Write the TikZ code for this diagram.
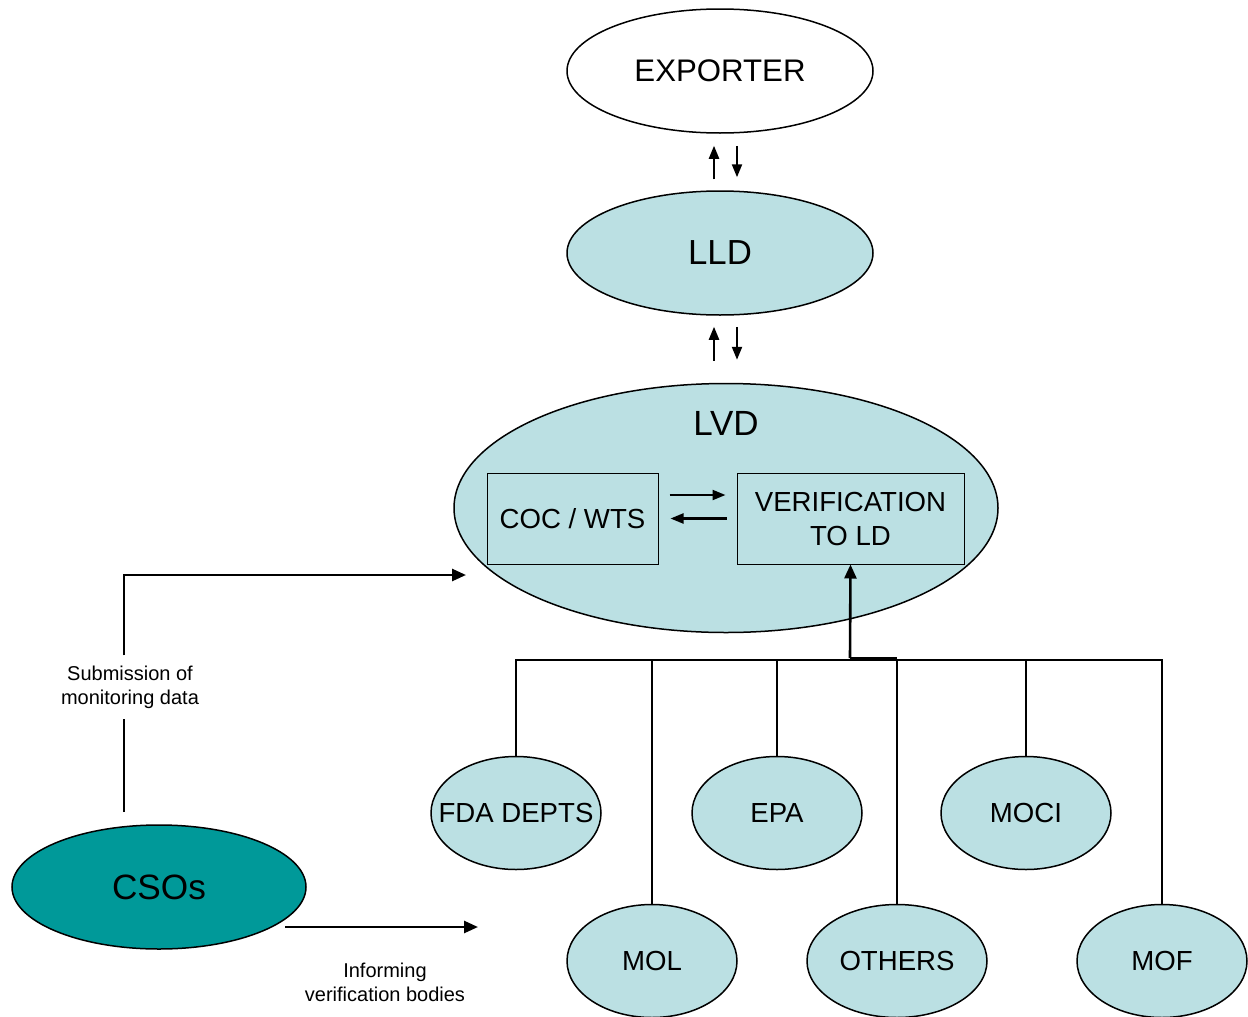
\documentclass[tikz,border=0pt]{standalone}
\usepackage{fontspec}
\setmainfont{Liberation Sans}
\usetikzlibrary{shapes.geometric,arrows.meta}
\definecolor{lb}{HTML}{BBE0E3}
\definecolor{tealc}{HTML}{009999}
\begin{document}
\begin{tikzpicture}[x=0.5pt,y=-0.5pt,
 ell/.style={ellipse,draw,line width=0.75pt,inner sep=0pt},
 big/.style={ell,minimum width=153pt,minimum height=62pt},
 small/.style={ell,fill=lb,minimum width=85pt,minimum height=56.5pt,font=\fontsize{13.8}{16}\selectfont},
 box/.style={draw,line width=0.5pt,inner sep=0pt,font=\fontsize{13.8}{17}\selectfont,align=center},
 arr/.style={line width=1.3pt,-{Triangle[length=7pt,width=6pt]}},
 sarr/.style={line width=1.1pt,-{Triangle[length=6.5pt,width=5pt]}},
 bus/.style={line width=1pt},
 lbl/.style={font=\fontsize{10}{12}\selectfont,align=center,inner sep=5pt}
]
\useasboundingbox (0,0) rectangle (1248,1017);

\node[big,fill=white,font=\fontsize{15.6}{18}\selectfont] (exp) at (720,71) {EXPORTER};
\node[big,fill=lb,font=\fontsize{17.4}{20}\selectfont] (lld) at (720,253) {LLD};
\node[ell,fill=lb,minimum width=272pt,minimum height=124.5pt] (lvd) at (726,508) {};
\node[font=\fontsize{17.5}{20}\selectfont] (lvdt) at (726,423) {LVD};
\node[box,minimum width=85.5pt,minimum height=45.5pt] (coc) at (572.5,518.5) {COC / WTS};
\node[box,minimum width=113.5pt,minimum height=45.5pt] (ver) at (850.5,518.5) {VERIFICATION\\ TO LD};

% arrows exporter <-> lld
\draw[sarr] ([xshift=-3pt,yshift=5.5pt]lld.north) -- ([xshift=-3pt,yshift=-6pt]exp.south);
\draw[sarr] ([xshift=8.5pt,yshift=-6pt]exp.south) -- ([xshift=8.5pt,yshift=6.5pt]lld.north);
% arrows lld <-> lvd
\draw[sarr] ([xshift=-3pt,yshift=-22.5pt]lld.south) -- ([xshift=-3pt,yshift=-5.5pt]lld.south);
\draw[sarr] ([xshift=8.5pt,yshift=-5.5pt]lld.south) -- ([xshift=8.5pt,yshift=-22pt]lld.south);
% arrows inside lvd
\draw[sarr] ([xshift=5.5pt,yshift=11.75pt]coc.east) -- ([xshift=-5.5pt,yshift=11.75pt]ver.west);
\draw[sarr] ([xshift=-5pt]ver.west) -- ([xshift=6pt]coc.east);

% agencies
\node[small] (fda) at (516,813) {\makebox[0pt]{FDA DEPTS}};
\node[small] (epa) at (777,813) {EPA};
\node[small] (moci) at (1026,813) {MOCI};
\node[small] (mol) at (652,961) {MOL};
\node[small,minimum width=90pt] (oth) at (897,961) {OTHERS};
\node[small] (mof) at (1162,961) {MOF};

\coordinate (busc) at (850,660);
\draw[bus] (fda.north) -- (fda.north |- busc) -- (mof.north |- busc) -- (mof.north);
\draw[bus] (mol.north) -- (mol.north |- busc);
\draw[bus] (epa.north) -- (epa.north |- busc);
\draw[bus] (oth.north) -- (oth.north |- busc);
\draw[bus] (moci.north) -- (moci.north |- busc);
\draw[line width=1.6pt] ([yshift=0.5pt]busc) -- ([yshift=0.5pt]busc -| oth.north);
\draw[arr] ([yshift=1pt]busc) -- (ver.south);

% CSOs
\node[ell,fill=tealc,minimum width=147pt,minimum height=62pt,font=\fontsize{17.6}{20}\selectfont] (cso) at (159,887) {CSOs};
\coordinate (s0) at (124,812);
\coordinate (lvdin) at (466,575);
\node[lbl] (sub) at (130,687) {Submission of\\monitoring data};
\draw[line width=1.3pt] (s0) -- (s0 |- sub.south);
\draw[arr] (s0 |- sub.north) |- (lvdin);

\coordinate (i0) at (285,927);
\coordinate (i1) at (478,927);
\draw[arr] (i0) -- (i1);
\node[lbl] (inf) at (385,982) {Informing\\verification bodies};
\end{tikzpicture}
\end{document}
